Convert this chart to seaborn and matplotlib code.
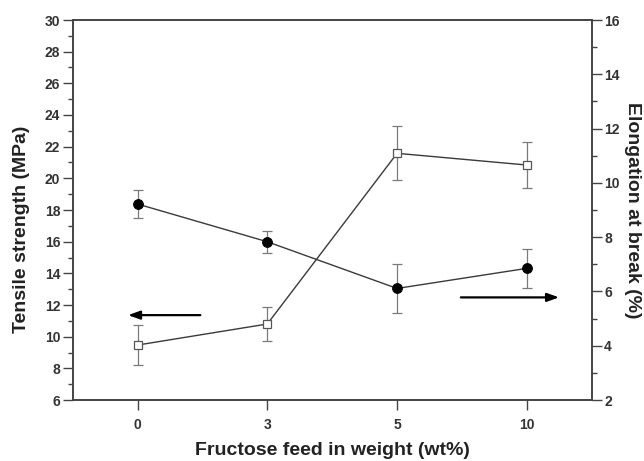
import numpy as np
import pandas as pd
import matplotlib
matplotlib.use("Agg")
import matplotlib.pyplot as plt
from matplotlib.ticker import MultipleLocator
import seaborn as sns

# Fructose content in the feed (wt%)
feed_labels = ["0", "3", "5", "10"]

# Tensile strength (MPa), left axis
tensile = [9.47, 10.8, 21.58, 20.84]
tensile_err = [1.27, 1.10, 1.70, 1.47]

# Elongation at break (%), right axis
elongation = [9.22, 7.83, 6.11, 6.85]
elongation_err = [0.51, 0.41, 0.91, 0.72]

sns.set_style("ticks")
plt.rcParams["font.family"] = ["Liberation Sans", "DejaVu Sans"]
plt.rcParams["font.weight"] = "bold"

fig = plt.figure(figsize=(6.44, 4.61), dpi=100)
ax = fig.add_axes([72.7 / 644, 1 - 400 / 461, (591.7 - 72.7) / 644, 380 / 461])
ax2 = ax.twinx()

pos = np.arange(len(feed_labels))
df = pd.DataFrame({"pos": pos, "tensile": tensile, "elongation": elongation})

line_col = "#3a3a3a"
err_col = "#7a7a7a"

# Tensile strength: open squares
ax.errorbar(pos, tensile, yerr=tensile_err, fmt="none", ecolor=err_col,
            elinewidth=0.9, capsize=3.3, capthick=0.9, zorder=2)
sns.lineplot(data=df, x="pos", y="tensile", ax=ax, color=line_col, lw=1.0,
             marker="s", markersize=5.5, markerfacecolor="white",
             markeredgecolor="#555555", markeredgewidth=0.9, zorder=3)

# Elongation at break: filled circles
ax2.errorbar(pos, elongation, yerr=elongation_err, fmt="none", ecolor=err_col,
             elinewidth=0.9, capsize=3.3, capthick=0.9, zorder=2)
sns.lineplot(data=df, x="pos", y="elongation", ax=ax2, color=line_col, lw=1.0,
             marker="o", markersize=7, markerfacecolor="black",
             markeredgecolor="black", zorder=3)

ax.set_xlim(-0.5, 3.5)
ax.set_ylim(6, 30)
ax2.set_ylim(2, 16)

ax.set_xticks(pos)
ax.set_xticklabels(feed_labels)
ax.yaxis.set_major_locator(MultipleLocator(2))
ax.yaxis.set_minor_locator(MultipleLocator(1))
ax2.yaxis.set_major_locator(MultipleLocator(2))
ax2.yaxis.set_minor_locator(MultipleLocator(1))

tick_col = "#333333"
for a in (ax, ax2):
    for s in a.spines.values():
        s.set_color("#444444")
        s.set_linewidth(1.2)
    a.tick_params(which="major", length=7, width=1.0, color="#444444",
                  labelsize=10, labelcolor=tick_col, pad=2)
    a.tick_params(which="minor", length=3.5, width=1.0, color="#444444")
ax.tick_params(axis="x", which="major", pad=6)

ax.set_xlabel("Fructose feed in weight (wt%)", fontsize=14, fontweight="bold",
              color="#222222")
ax.xaxis.set_label_coords(0.5, -0.11)
ax.set_ylabel("Tensile strength (MPa)", fontsize=14, fontweight="bold",
              color="#222222")
ax.yaxis.set_label_coords(-0.083, 0.45)
ax2.set_ylabel("Elongation at break (%)", fontsize=14, fontweight="bold",
               color="#222222", rotation=270, labelpad=15)

# Arrows pointing each curve to its axis
arrow_kw = dict(arrowstyle="-|>,head_length=0.7,head_width=0.25",
                color="black", lw=1.6)
ax.annotate("", xy=(-0.095, 11.36), xytext=(0.505, 11.36), arrowprops=arrow_kw)
ax.annotate("", xy=(3.27, 12.48), xytext=(2.47, 12.48), arrowprops=arrow_kw)

fig.savefig("out.png", dpi=100)
